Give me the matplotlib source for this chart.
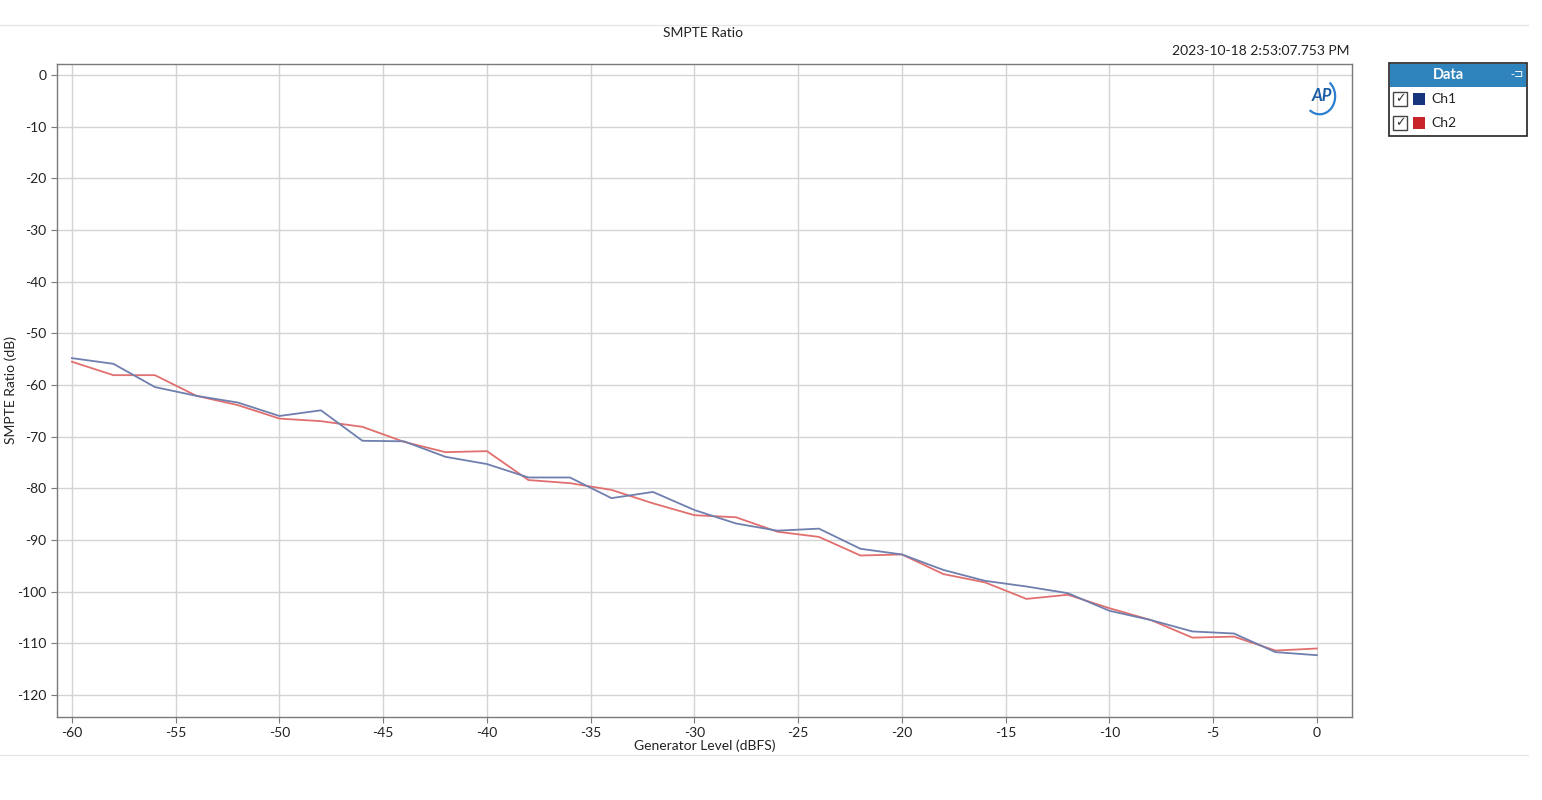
import numpy as np
import matplotlib
matplotlib.use("Agg")
import matplotlib.pyplot as plt
from matplotlib.patches import Rectangle, Arc
from matplotlib.lines import Line2D

plt.rcParams['font.family'] = ['Lato', 'DejaVu Sans']
plt.rcParams['axes.unicode_minus'] = False

# Generator level (dBFS)
gen_level = list(range(-60, 1, 2))

# SMPTE ratio (dB)
ch1 = [-54.8, -55.9, -60.4, -62.1, -63.4, -66.0, -64.9, -70.8, -70.9, -73.9,
       -75.3, -77.9, -77.9, -81.9, -80.7, -84.2, -86.8, -88.2, -87.8, -91.7,
       -92.8, -95.8, -97.9, -99.0, -100.3, -103.7, -105.5, -107.7, -108.1, -111.7,
       -112.3]
ch2 = [-55.5, -58.1, -58.1, -62.1, -63.9, -66.5, -67.0, -68.1, -71.0, -73.0,
       -72.8, -78.4, -79.0, -80.3, -82.9, -85.2, -85.6, -88.4, -89.4, -93.0,
       -92.8, -96.6, -98.2, -101.4, -100.6, -103.2, -105.5, -108.9, -108.7, -111.4,
       -111.0]

xticks = list(range(-60, 1, 5))
yticks = list(range(0, -121, -10))

fig = plt.figure(figsize=(15.42, 8.0), dpi=100)
ax = fig.add_axes([57 / 1542, 1 - 717 / 800, (1352 - 57) / 1542, (717 - 64) / 800])

ax.plot(gen_level, ch1, color='#6f7fae', lw=1.3, zorder=3)
ax.plot(gen_level, ch2, color='#e26f6f', lw=1.3, zorder=2)

ax.set_xlim(-60.72, 1.69)
ax.set_ylim(-124.26, 2.13)
ax.set_xticks(xticks)
ax.set_yticks(yticks)
ax.grid(True, color='#d4d4d4', lw=1.0)
ax.set_axisbelow(True)
for s in ax.spines.values():
    s.set_color('#7a7a7a')
    s.set_linewidth(1.0)
ax.tick_params(axis='both', labelsize=10, colors='#7a7a7a', labelcolor='#222222',
               length=4, direction='out')
ax.set_xlabel('Generator Level (dBFS)', fontsize=10, color='#222222', labelpad=0)
fig.text(11 / 1542, 1 - 390 / 800, 'SMPTE Ratio (dB)', rotation=90, ha='center',
         va='center', fontsize=10, color='#222222')

fig.text(703 / 1542, 1 - 33 / 800, 'SMPTE Ratio', ha='center', va='center',
         fontsize=10, color='#222222')
fig.text(1350 / 1542, 1 - 51 / 800, '2023-10-18 2:53:07.753 PM', ha='right',
         va='center', fontsize=10, color='#222222')

# separator lines
fig.add_artist(Line2D([0, 1528 / 1542], [1 - 25 / 800] * 2, color='#e6e6e6', lw=1))
fig.add_artist(Line2D([0, 1528 / 1542], [1 - 755 / 800] * 2, color='#e6e6e6', lw=1))

# AP logo
ax.text(0.9765, 0.9505, 'AP', transform=ax.transAxes, ha='center', va='center',
        fontsize=12, fontweight='bold', style='italic', color='#1b5ea6')
ax.add_patch(Arc((0.975, 0.9505), 0.024, 0.055, theta1=-110, theta2=70,
                 transform=ax.transAxes, color='#2a7fd0', lw=1.6))

# legend panel
def fx(px):
    return px / 1542

def fy(py):
    return 1 - py / 800

fig.add_artist(Rectangle((fx(1389), fy(136)), fx(138), 73 / 800, facecolor='white',
                         edgecolor='#222222', lw=1.2))
fig.add_artist(Rectangle((fx(1390), fy(87)), fx(136), 23 / 800, facecolor='#2f84bd',
                         edgecolor='none'))
fig.text(fx(1448), fy(75), 'Data', ha='center', va='center', fontsize=10.5,
         fontweight='bold', color='white')
fig.text(fx(1517), fy(74), '-⊐', ha='center', va='center', fontsize=8, color='white',
         family=['DejaVu Sans'])
rows = [('Ch1', '#17357d', 99), ('Ch2', '#c8242a', 123)]
for name, col, py in rows:
    fig.add_artist(Rectangle((fx(1393), fy(py + 7)), fx(14), 14 / 800, facecolor='white',
                             edgecolor='#444444', lw=1))
    fig.text(fx(1400), fy(py), '✓', ha='center', va='center', fontsize=9,
             color='#333333', family=['DejaVu Sans'])
    fig.add_artist(Rectangle((fx(1413), fy(py + 6)), fx(12), 12 / 800, facecolor=col,
                             edgecolor='none'))
    fig.text(fx(1431), fy(py), name, ha='left', va='center', fontsize=10,
             color='#222222')

fig.savefig('out.png', dpi=100)
